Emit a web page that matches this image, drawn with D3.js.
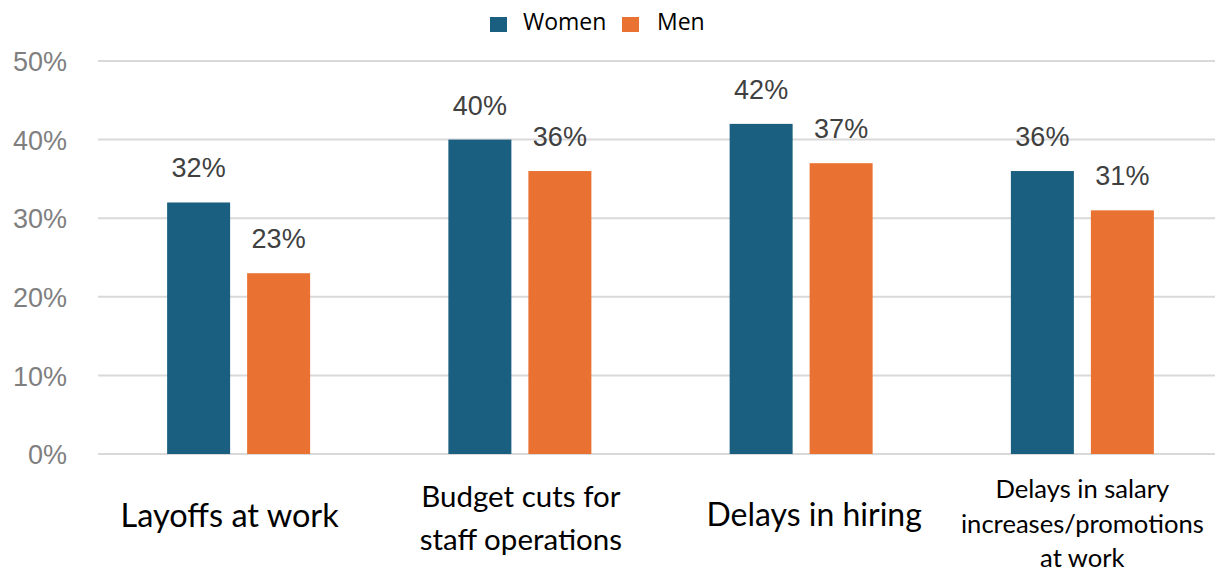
<!DOCTYPE html>
<html>
<head>
<meta charset="utf-8">
<script src="https://cdn.jsdelivr.net/npm/d3@7"></script>
<style>
  html, body { margin: 0; padding: 0; background: #fff; }
  svg { display: block; }
</style>
</head>
<body>
<svg id="chart" width="1215" height="573"></svg>
<script>
// Share of respondents reporting each workplace impact, by gender
const categories = [
  ["Layoffs at work"],
  ["Budget cuts for", "staff operations"],
  ["Delays in hiring"],
  ["Delays in salary", "increases/promotions", "at work"]
];
const seriesNames = ["Women", "Men"];
const women = [0.32, 0.40, 0.42, 0.36];
const men = [0.23, 0.36, 0.37, 0.31];
const yTicks = [0, 0.1, 0.2, 0.3, 0.4, 0.5];

const colors = { Women: "#1a5f7f", Men: "#e97132" };

// category label layout: font size, line spacing, first baseline, horizontal nudge
const labelLayout = [
  { size: 32.5, lh: 0,    base: 527, dx: -9 },
  { size: 29.5, lh: 43,   base: 507, dx: 1 },
  { size: 32,   lh: 0,    base: 526, dx: 13 },
  { size: 25.6, lh: 34.5, base: 498, dx: 0 }
];

const svg = d3.select("#chart");
const W = 1215, H = 573;
const plotLeft = 98, plotRight = 1223, plotTop = 61, plotBottom = 454;

const keys = categories.map(c => c.join(" "));
const x0 = d3.scaleBand().domain(keys).range([plotLeft, plotRight]).padding(0);
const x1 = d3.scaleBand().domain(seriesNames)
  .range([x0.bandwidth() / 2 - 71.5, x0.bandwidth() / 2 + 71.5])
  .paddingInner(17 / 80).paddingOuter(0);
const y = d3.scaleLinear().domain([0, 0.5]).range([plotBottom, plotTop]);

// gridlines
svg.append("g").selectAll("line").data(yTicks).join("line")
  .attr("x1", plotLeft).attr("x2", W)
  .attr("y1", d => y(d)).attr("y2", d => y(d))
  .attr("stroke", "#d9d9d9").attr("stroke-width", 2);

// y axis labels
const yAxis = d3.axisLeft(y).tickValues(yTicks).tickFormat(d3.format(".0%")).tickSize(0).tickPadding(0);
const yg = svg.append("g").attr("transform", "translate(67,0)").call(yAxis);
yg.select(".domain").remove();
yg.selectAll("text")
  .attr("font-family", "Liberation Sans, Arial, sans-serif")
  .attr("font-size", 27).attr("fill", "#7f7f7f").attr("dy", "0.36em");

// bars
const rows = keys.map((k, i) => ({ key: k, values: [
  { s: "Women", v: women[i] }, { s: "Men", v: men[i] }
]}));
const groups = svg.append("g").selectAll("g").data(rows).join("g")
  .attr("transform", d => `translate(${x0(d.key)},0)`);

groups.selectAll("rect").data(d => d.values).join("rect")
  .attr("x", d => x1(d.s)).attr("width", x1.bandwidth())
  .attr("y", d => y(d.v)).attr("height", d => y(0) - y(d.v))
  .attr("fill", d => colors[d.s]);

groups.selectAll("text.val").data(d => d.values).join("text")
  .attr("class", "val")
  .attr("x", d => x1(d.s) + x1.bandwidth() / 2)
  .attr("y", d => y(d.v) - 25)
  .attr("text-anchor", "middle")
  .attr("font-family", "Liberation Sans, Arial, sans-serif")
  .attr("font-size", 27).attr("fill", "#404040")
  .text(d => d3.format(".0%")(d.v));

// category labels
categories.forEach((lines, i) => {
  const L = labelLayout[i];
  const cx = x0(keys[i]) + x0.bandwidth() / 2 + L.dx;
  const t = svg.append("text")
    .attr("x", cx).attr("y", L.base)
    .attr("text-anchor", "middle")
    .attr("font-family", "Lato, Carlito, Calibri, sans-serif")
    .attr("font-size", L.size).attr("fill", "#000");
  lines.forEach((ln, j) => {
    t.append("tspan").attr("x", cx).attr("y", L.base + j * L.lh).text(ln);
  });
});

// legend
const legend = svg.append("g").attr("transform", "translate(490,17)");
const legendItems = [{ s: "Women", x: 0 }, { s: "Men", x: 132 }];
legendItems.forEach(it => {
  legend.append("rect").attr("x", it.x).attr("y", 0).attr("width", 17).attr("height", 15)
    .attr("fill", colors[it.s]);
  legend.append("text").attr("x", it.x + (it.s === "Men" ? 35 : 33)).attr("y", 13)
    .attr("font-family", "Open Sans, Noto Sans, sans-serif")
    .attr("font-size", 23).attr("fill", "#000").text(it.s);
});
</script>
</body>
</html>
